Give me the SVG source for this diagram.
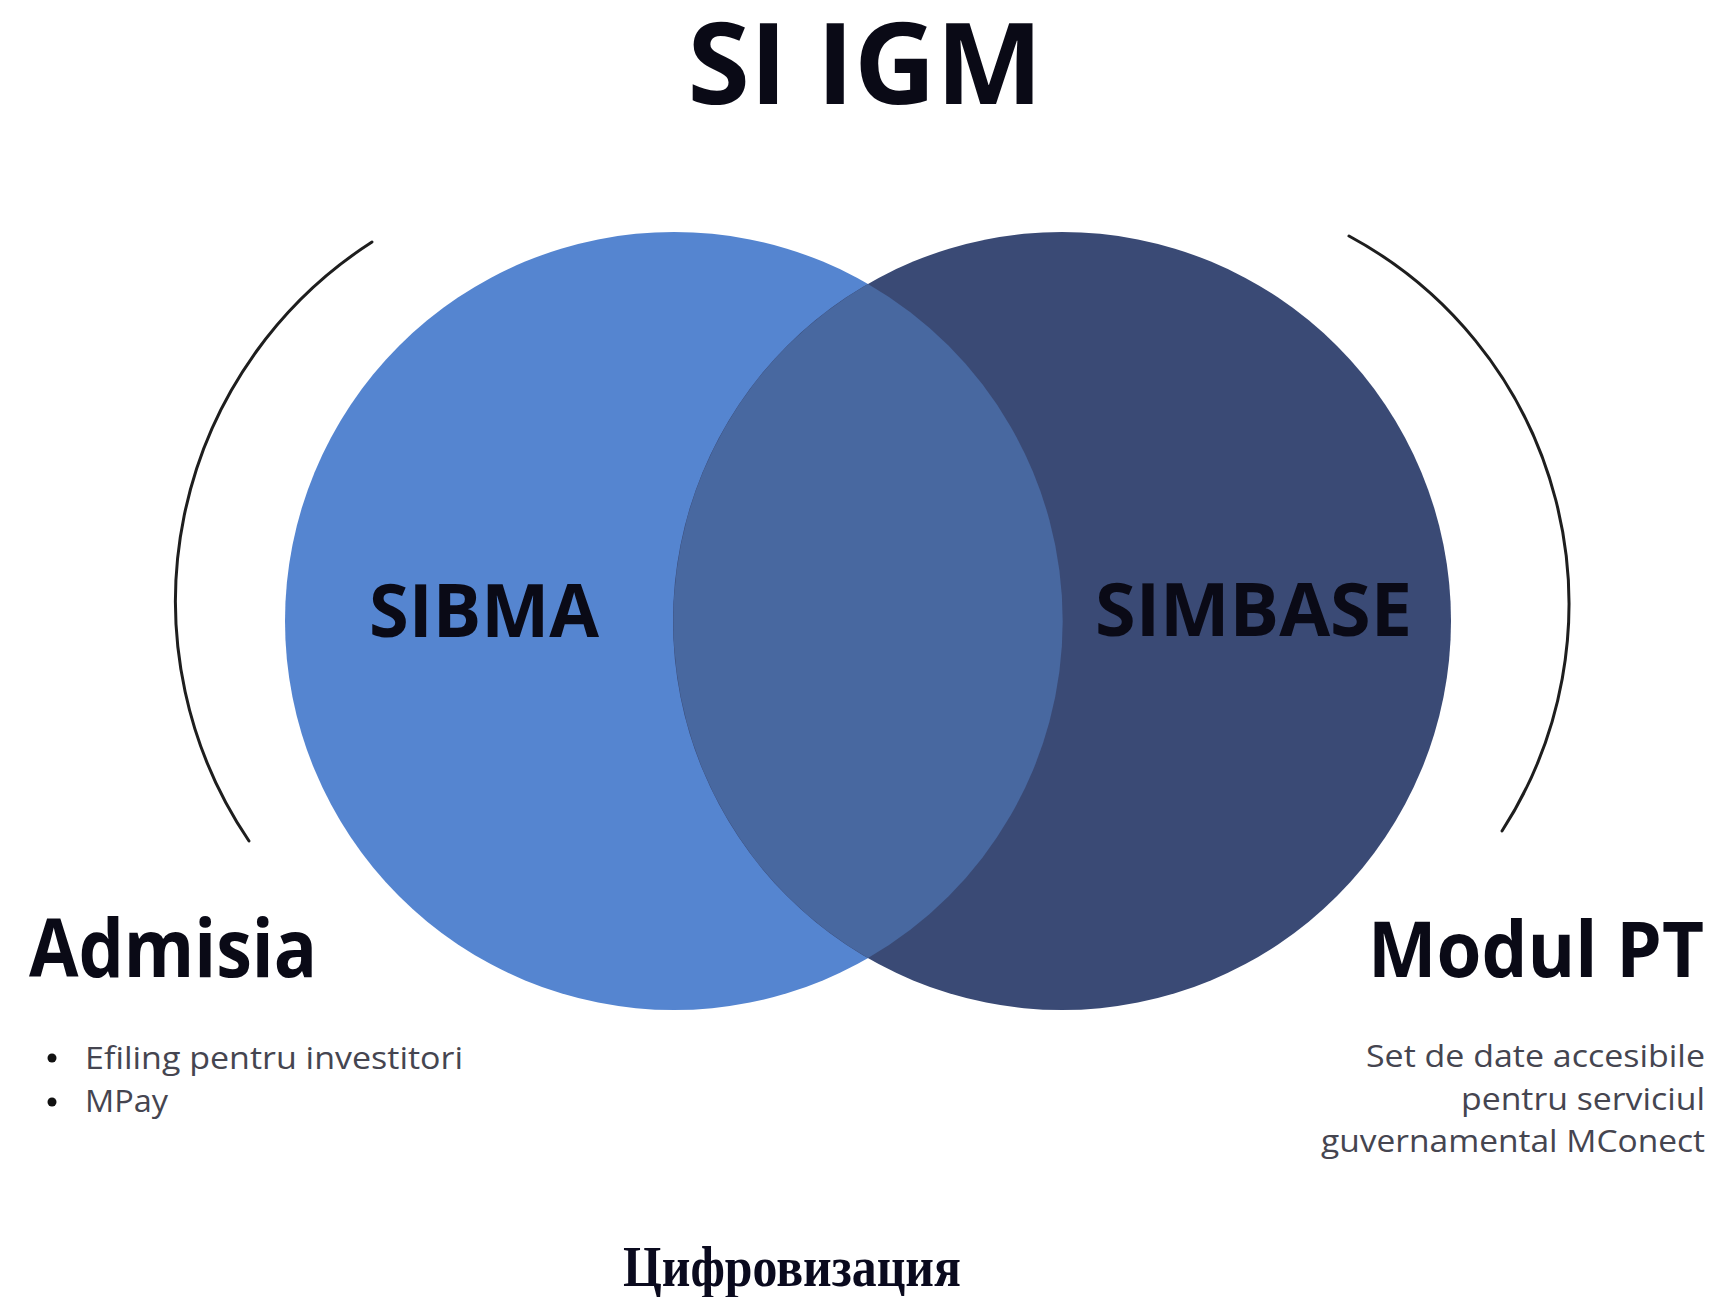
<svg xmlns="http://www.w3.org/2000/svg" width="1717" height="1297" viewBox="0 0 1717 1297">
<style>
.hdr{font-family:"Open Sans","Liberation Sans",sans-serif;font-weight:700;fill:#0a0a16}
.body{font-family:"Open Sans","Liberation Sans",sans-serif;font-weight:400;fill:#454550;font-size:31px}
.arc{fill:none;stroke:#1e1e1e;stroke-width:3;stroke-linecap:round}
</style>
<rect width="1717" height="1297" fill="#ffffff"/>
<g id="title">
<text class="hdr" x="865" y="104" font-size="113" text-anchor="middle" textLength="355" lengthAdjust="spacingAndGlyphs">SI IGM</text>
</g>
<g id="connectors">
<path class="arc" d="M 372 242 A 427 427 0 0 0 249 841"/>
<path class="arc" d="M 1349 236 A 418 418 0 0 1 1502 831"/>
</g>
<g id="sibma">
<circle cx="674" cy="621" r="389" fill="#5585d0"/>
</g>
<g id="simbase">
<circle cx="1062" cy="621" r="389" fill="#3a4a75"/>
</g>
<g id="intersection">
<path d="M 868 284 A 389 389 0 0 1 868 958 A 389 389 0 0 1 868 284 Z" fill="#4868a0"/>
</g>
<g id="labels">
<text class="hdr" x="369" y="637" font-size="73" textLength="230" lengthAdjust="spacingAndGlyphs">SIBMA</text>
<text class="hdr" x="1095" y="636" font-size="73" textLength="317" lengthAdjust="spacingAndGlyphs">SIMBASE</text>
</g>
<g id="admisia">
<text class="hdr" x="29" y="977" font-size="81" textLength="288" lengthAdjust="spacingAndGlyphs">Admisia</text>
<circle cx="52" cy="1058" r="4.5" fill="#111"/>
<circle cx="52" cy="1102" r="4.5" fill="#111"/>
<text class="body" x="85" y="1069" textLength="378" lengthAdjust="spacingAndGlyphs">Efiling pentru investitori</text>
<text class="body" x="85" y="1112" textLength="83" lengthAdjust="spacingAndGlyphs">MPay</text>
</g>
<g id="modul-pt">
<text class="hdr" x="1704" y="977" font-size="77" text-anchor="end" textLength="336" lengthAdjust="spacingAndGlyphs">Modul PT</text>
<text class="body" x="1705" y="1067" text-anchor="end" textLength="339" lengthAdjust="spacingAndGlyphs">Set de date accesibile</text>
<text class="body" x="1705" y="1110" text-anchor="end" textLength="244" lengthAdjust="spacingAndGlyphs">pentru serviciul</text>
<text class="body" x="1705" y="1152" text-anchor="end" textLength="384" lengthAdjust="spacingAndGlyphs">guvernamental MConect</text>
</g>
<g id="caption">
<text x="623" y="1286" font-family="'Liberation Serif','Times New Roman',serif" font-weight="700" font-size="57" fill="#0a0a1e" textLength="338" lengthAdjust="spacingAndGlyphs">Цифровизация</text>
</g>
</svg>
